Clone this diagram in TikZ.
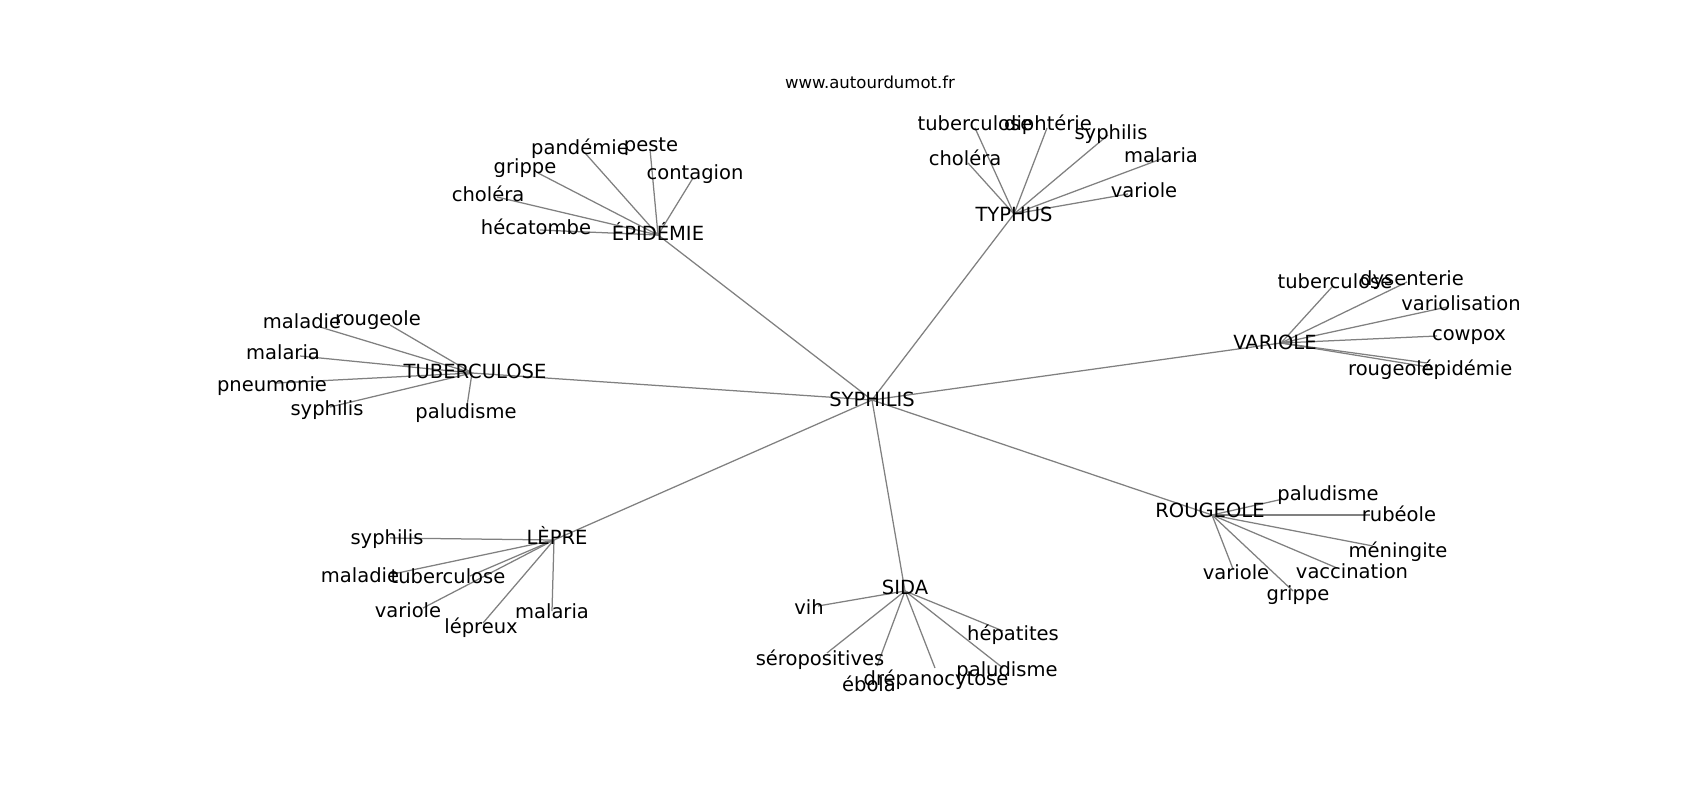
\documentclass[tikz,border=0pt]{standalone}
\usepackage{fontspec}
\setmainfont{DejaVu Sans}
\begin{document}
\begin{tikzpicture}[x=0.72pt,y=-0.72pt,
  lbl/.style={inner sep=0pt,anchor=center,yshift=-3pt,font=\fontsize{14.05pt}{17pt}\selectfont,text height=0.76em,text depth=0.24em},
  ttl/.style={inner sep=0pt,anchor=center,yshift=-3pt,font=\fontsize{11.9pt}{14pt}\selectfont,text height=0.76em,text depth=0.24em},
  edge/.style={draw={rgb,255:red,128;green,128;blue,128},line width=0.9pt}]
\useasboundingbox[fill=white] (0,0) rectangle (1700,800);
% hub points
\coordinate (S) at (872,400);
\coordinate (EP) at (658,235);
\coordinate (TY) at (1014,214);
\coordinate (VA) at (1281,343);
\coordinate (TU) at (472,373);
\coordinate (LE) at (554,540);
\coordinate (SI) at (905,591);
\coordinate (RO) at (1212,515);
% leaf points
\coordinate (ep1) at (585,153);
\coordinate (ep2) at (650,149);
\coordinate (ep3) at (538,173);
\coordinate (ep4) at (693,178);
\coordinate (ep5) at (497,197);
\coordinate (ep6) at (540,230);
\coordinate (ty1) at (975,128);
\coordinate (ty2) at (1047,128);
\coordinate (ty3) at (1108,135);
\coordinate (ty4) at (968,163);
\coordinate (ty5) at (1161,159);
\coordinate (ty6) at (1128,194);
\coordinate (va1) at (1332,287);
\coordinate (va2) at (1407,282);
\coordinate (va3) at (1447,307);
\coordinate (va4) at (1437,336);
\coordinate (va5) at (1427,363);
\coordinate (va6) at (1428,367);
\coordinate (tu1) at (320,327);
\coordinate (tu2) at (390,325);
\coordinate (tu3) at (300,356);
\coordinate (tu4) at (277,383);
\coordinate (tu5) at (330,407);
\coordinate (tu6) at (467,406);
\coordinate (le1) at (390,538);
\coordinate (le2) at (393,574);
\coordinate (le3) at (470,576);
\coordinate (le4) at (423,608);
\coordinate (le5) at (483,623);
\coordinate (le6) at (552,611);
\coordinate (si1) at (818,606);
\coordinate (si2) at (827,653);
\coordinate (si3) at (877,666);
\coordinate (si4) at (935,668);
\coordinate (si5) at (1003,631);
\coordinate (si6) at (1003,668);
\coordinate (ro1) at (1283,499);
\coordinate (ro2) at (1370,515);
\coordinate (ro3) at (1373,546);
\coordinate (ro4) at (1337,568);
\coordinate (ro5) at (1233,569);
\coordinate (ro6) at (1293,591);
% edges
\foreach \h in {EP,TY,VA,TU,LE,SI,RO} \draw[edge] (S) -- (\h);
\foreach \i in {1,...,6} {
  \draw[edge] (EP) -- (ep\i);
  \draw[edge] (TY) -- (ty\i);
  \draw[edge] (VA) -- (va\i);
  \draw[edge] (TU) -- (tu\i);
  \draw[edge] (LE) -- (le\i);
  \draw[edge] (SI) -- (si\i);
  \draw[edge] (RO) -- (ro\i);
}
% title
\node[ttl] (title) at (870,81) {www.autourdumot.fr};
% hub labels
\node[lbl] (Sl) at (872,399) {SYPHILIS};
\node[lbl] (EPl) at (658,233) {ÉPIDÉMIE};
\node[lbl] (TYl) at (1014,214) {TYPHUS};
\node[lbl] (VAl) at (1275,342) {VARIOLE};
\node[lbl] (TUl) at (475,371) {TUBERCULOSE};
\node[lbl] (LEl) at (557,537) {LÈPRE};
\node[lbl] (SIl) at (905,587) {SIDA};
\node[lbl] (ROl) at (1210,510) {ROUGEOLE};
% leaf labels
\node[lbl] (ep1l) at (580,147) {pandémie};
\node[lbl] (ep2l) at (651,144) {peste};
\node[lbl] (ep3l) at (525,166) {grippe};
\node[lbl] (ep4l) at (695,172) {contagion};
\node[lbl] (ep5l) at (488,194) {choléra};
\node[lbl] (ep6l) at (536,227) {hécatombe};
\node[lbl] (ty1l) at (975,123) {tuberculose};
\node[lbl] (ty2l) at (1048,123) {diphtérie};
\node[lbl] (ty3l) at (1111,132) {syphilis};
\node[lbl] (ty4l) at (965,158) {choléra};
\node[lbl] (ty5l) at (1161,155) {malaria};
\node[lbl] (ty6l) at (1144,190) {variole};
\node[lbl] (va1l) at (1335,281) {tuberculose};
\node[lbl] (va2l) at (1412,278) {dysenterie};
\node[lbl] (va3l) at (1461,303) {variolisation};
\node[lbl] (va4l) at (1469,333) {cowpox};
\node[lbl] (va5l) at (1391,368) {rougeole};
\node[lbl] (va6l) at (1467,368) {épidémie};
\node[lbl] (tu1l) at (302,321) {maladie};
\node[lbl] (tu2l) at (378,318) {rougeole};
\node[lbl] (tu3l) at (283,352) {malaria};
\node[lbl] (tu4l) at (272,384) {pneumonie};
\node[lbl] (tu5l) at (327,408) {syphilis};
\node[lbl] (tu6l) at (466,411) {paludisme};
\node[lbl] (le1l) at (387,537) {syphilis};
\node[lbl] (le2l) at (360,575) {maladie};
\node[lbl] (le3l) at (448,576) {tuberculose};
\node[lbl] (le4l) at (408,610) {variole};
\node[lbl] (le5l) at (481,626) {lépreux};
\node[lbl] (le6l) at (552,611) {malaria};
\node[lbl] (si1l) at (809,607) {vih};
\node[lbl] (si2l) at (820,658) {séropositives};
\node[lbl] (si3l) at (869,684) {ébola};
\node[lbl] (si4l) at (936,678) {drépanocytose};
\node[lbl] (si5l) at (1013,633) {hépatites};
\node[lbl] (si6l) at (1007,669) {paludisme};
\node[lbl] (ro1l) at (1328,493) {paludisme};
\node[lbl] (ro2l) at (1399,514) {rubéole};
\node[lbl] (ro3l) at (1398,550) {méningite};
\node[lbl] (ro4l) at (1352,571) {vaccination};
\node[lbl] (ro5l) at (1236,572) {variole};
\node[lbl] (ro6l) at (1298,593) {grippe};
\end{tikzpicture}
\end{document}
